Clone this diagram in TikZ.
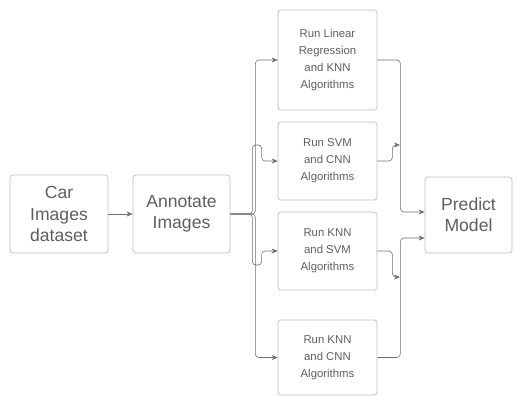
\documentclass[tikz,border=0pt]{standalone}
\usepackage{fontspec}
\setmainfont{Liberation Sans}
\usepackage{xcolor}
\usetikzlibrary{positioning, arrows.meta, calc}
\definecolor{boxline}{HTML}{BDBDBD}
\definecolor{wire}{HTML}{6E6E6E}
\definecolor{txt}{HTML}{5E5E5E}
\tikzset{
  pnode/.style={draw=boxline, line width=0.6pt, rounded corners=2.5pt, align=center, text=txt, inner sep=0pt},
  big/.style={pnode, font=\fontsize{15}{18}\selectfont, minimum width=2.94cm, minimum height=2.34cm},
  algo/.style={pnode, font=\fontsize{9.7}{14.5}\selectfont, minimum width=2.97cm, minimum height=2.34cm},
  arr/.style={-{Stealth[length=1.8mm, width=1.5mm]}, draw=wire, line width=0.5pt, rounded corners=3pt},
}
\begin{document}
\begin{tikzpicture}[x=0.03cm, y=-0.03cm]
\useasboundingbox (0,0) rectangle (516,396);
\node[big] (data) at (59,214) {Car\\Images\\dataset};
\node[big, minimum width=2.91cm] (annot) at (181.5,214) {Annotate\\Images};
\node[algo, minimum height=3cm] (lr) at (327.5,60) {Run Linear\\Regression\\and KNN\\Algorithms};
\node[algo] (svmcnn) at (327.5,161) {Run SVM\\and CNN\\Algorithms};
\node[algo] (knnsvm) at (327.5,251) {Run KNN\\and SVM\\Algorithms};
\node[algo, minimum height=2.25cm] (knncnn) at (327.5,357.5) {Run KNN\\and CNN\\Algorithms};
\node[big, minimum width=2.61cm, minimum height=2.28cm] (pred) at (468.5,215) {Predict\\Model};
\coordinate (m1) at (400,145);
\coordinate (m2) at (400,277);
% input side
\draw[arr] (data) -- (annot);
\foreach \to in {lr, knncnn}
  \draw[arr] (annot.east) -- ++(25,0) |- (\to.west);
\draw[arr] (annot.east) -- ++(22,0) |- ($(svmcnn.west)+(-16,-16)$) |- (svmcnn.west);
\draw[arr] (annot.east) -- ++(22,0) |- ($(knnsvm.west)+(-16,14)$) |- (knnsvm.west);
% output side
\draw[arr] (lr.east) -- ++(23,0) |- ($(pred.west)+(0,-3)$);
\draw[arr] (knncnn.east) -- ++(23,0) |- ($(pred.west)+(0,23)$);
\draw[arr] (svmcnn.east) -- ++(15,0) |- (m1);
\draw[arr] (knnsvm.east) -- ++(15,0) |- (m2);
\end{tikzpicture}
\end{document}
